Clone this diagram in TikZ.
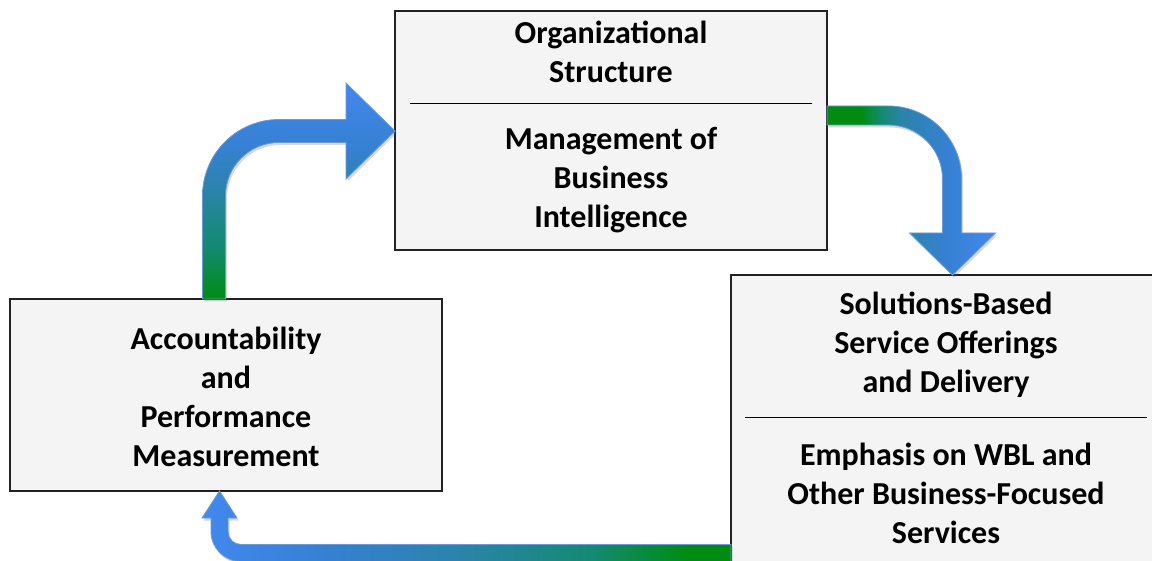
\documentclass[tikz,border=0pt]{standalone}
\usepackage{fontspec}
\setmainfont{Carlito}
\usetikzlibrary{shadows}
\definecolor{boxfill}{HTML}{F4F4F4}
\definecolor{boxline}{HTML}{222222}
\definecolor{agreen}{HTML}{008C10}
\definecolor{agt}{HTML}{138A70}
\definecolor{ateal}{HTML}{2A84A8}
\definecolor{amidblue}{HTML}{3680D2}
\definecolor{ablue}{HTML}{4288EE}
\definecolor{aedge}{HTML}{6A9BD8}
\pgfdeclareverticalshading{arrowone}{100bp}{color(0bp)=(agreen); color(25bp)=(agreen); color(37bp)=(agt); color(50bp)=(ateal); color(60bp)=(amidblue); color(75bp)=(ablue); color(100bp)=(ablue)}
\pgfdeclarehorizontalshading{arrowtwo}{100bp}{color(0bp)=(agreen); color(25bp)=(agreen); color(35bp)=(agreen); color(41bp)=(agt); color(47bp)=(ateal); color(60bp)=(amidblue); color(75bp)=(ablue); color(100bp)=(ablue)}
\pgfdeclarehorizontalshading{arrowthree}{100bp}{color(0bp)=(ablue); color(25bp)=(ablue); color(37bp)=(amidblue); color(50bp)=(ateal); color(62bp)=(agt); color(71bp)=(agreen); color(75bp)=(agreen); color(100bp)=(agreen)}
\tikzset{
  box/.style={draw=boxline, line width=1.4pt, fill=boxfill, rectangle, inner sep=0pt},
  label/.style={align=center, inner sep=0pt, font=\fontsize{32}{39}\selectfont\bfseries},
  divider/.style={draw=black, line width=1pt},
  arrowedge/.style={draw=aedge, line width=0.8pt, line join=miter,
    drop shadow={shadow xshift=1.5pt, shadow yshift=-2.5pt, opacity=0.25, fill=black!60}}
}
\begin{document}
\begin{tikzpicture}[x=1pt, y=-1pt]
\useasboundingbox (0,0) rectangle (1152,561);
% boxes
\node[box, minimum width=432pt, minimum height=239pt] (org) at (611,130.5) {};
\node[box, minimum width=432pt, minimum height=192pt] (acc) at (226,395) {};
\node[box, minimum width=430pt, minimum height=315pt] (sol) at (946,432.5) {};
% dividers
\coordinate (d1a) at (410,104); \coordinate (d1b) at (812,104);
\draw[divider] (d1a) -- (d1b);
\coordinate (d2a) at (745,418); \coordinate (d2b) at (1147,418);
\draw[divider] (d2a) -- (d2b);
% texts
\node[label] (t1) at (611,51.5) {Organizational\\Structure};
\node[label] (t2) at (611,180) {Management of\\Business\\Intelligence};
\node[label] (t3) at (226,397) {Accountability\\and\\Performance\\Measurement};
\node[label] (t4) at (946,345) {Solutions-Based\\Service Offerings\\and Delivery};
\node[label] (t5) at (946,493) {Emphasis on WBL and\\Other Business-Focused\\Services};
% arrow 1: left box -> top box
\path[shading=arrowone, arrowedge]
  (202.5,299) -- (202.5,196)
  .. controls (202.5,153.75) and (236.75,119.5) .. (279,119.5)
  -- (346,119.5) -- (346,83) -- (395,131) -- (346,179) -- (346,142.5)
  -- (279,142.5)
  .. controls (249.45,142.5) and (225.5,166.45) .. (225.5,196)
  -- (225.5,299) -- cycle;
% arrow 2: top box -> right box
\path[shading=arrowtwo, arrowedge]
  (827,106) -- (888.5,106)
  .. controls (928.8,106) and (961.5,138.7) .. (961.5,179)
  -- (961.5,233) -- (995.5,233) -- (952.5,275) -- (909.5,233) -- (942.5,233)
  -- (942.5,179)
  .. controls (942.5,149.2) and (918.3,125) .. (888.5,125)
  -- (827,125) -- cycle;
% arrow 3: right box -> left box
\path[shading=arrowthree, arrowedge]
  (731,544.5) -- (241,544.5)
  .. controls (233.8,544.5) and (228,538.7) .. (228,531.5)
  -- (228,518) -- (237,518) -- (219.5,491) -- (202,518) -- (211,518)
  -- (211,531.5)
  .. controls (211,548.1) and (224.4,561.5) .. (241,561.5)
  -- (731,561.5) -- cycle;
\end{tikzpicture}
\end{document}
